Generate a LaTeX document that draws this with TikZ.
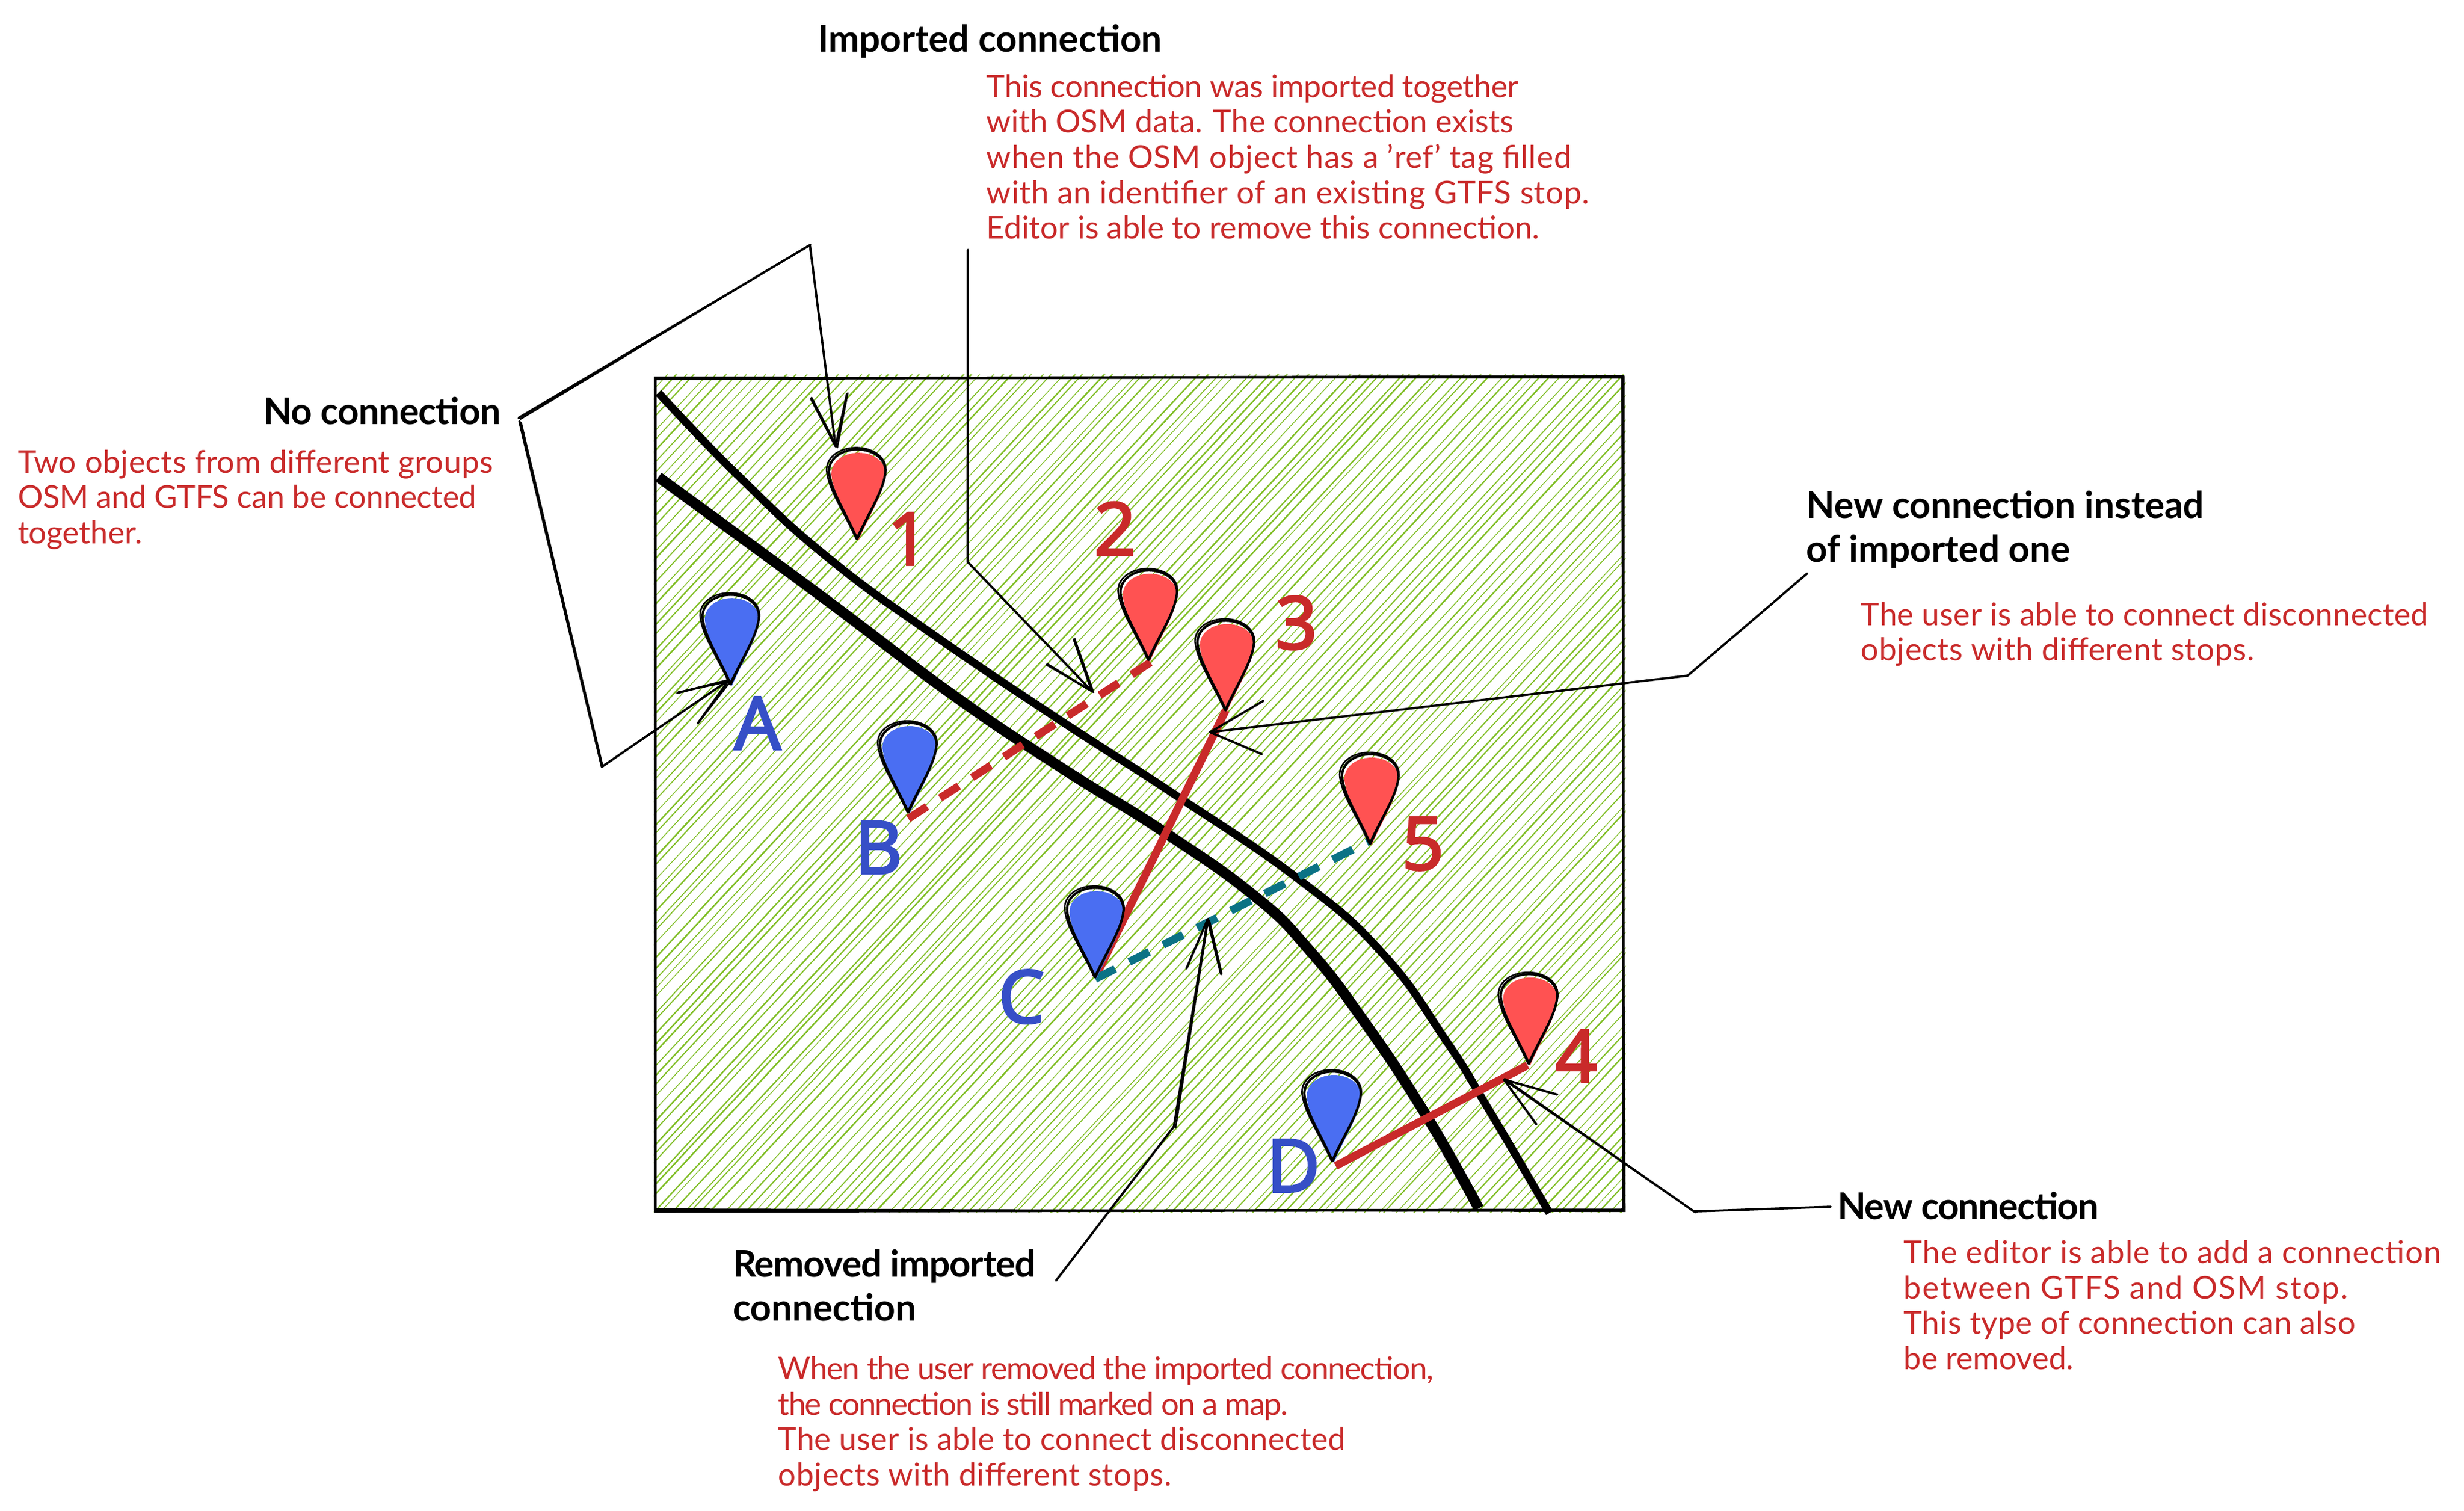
\documentclass[tikz,border=0pt]{standalone}
\usepackage{fontspec}
\usetikzlibrary{calc}
\setmainfont{Lato}
\newfontfamily\pinfont[FakeBold=2.6]{Noto Sans}
\definecolor{hatchgreen}{HTML}{80BE26}
\definecolor{notered}{HTML}{C92A2A}
\definecolor{pinred}{HTML}{FF5252}
\definecolor{pinblue}{HTML}{4A6EF2}
\definecolor{lblblue}{HTML}{364FC7}
\definecolor{teal}{HTML}{0B7285}
\newcommand{\ls}[2]{{\addfontfeature{LetterSpace=#1}#2}}
\tikzset{
  conn/.style={black,line width=0.85pt,line join=round,line cap=round},
  road/.style={black,line cap=butt,line join=round},
  linkline/.style={line width=3pt,line cap=butt},
  linkdash/.style={linkline,dash pattern=on 8.5pt off 6pt},
  headtxt/.style={inner sep=0pt,font=\fontsize{14.1}{16.8}\selectfont\bfseries,align=left,text=black},
  redtxt/.style={inner sep=0pt,font=\fontsize{12}{13.5}\selectfont,align=left,text=notered},
  lbl/.style={inner sep=0pt,anchor=base,font=\pinfont\fontsize{28}{30}\selectfont},
}
\newcommand{\dbl}[2]{%
  \draw[conn] (#1)--(#2);
  \draw[conn,line width=0.6pt] ($(#1)+(1.1,0.8)$)--($(#2)+(0.5,-0.5)$);}
\newcommand{\teardrop}{(0,0) .. controls (-8,-18) and (-17,-31) .. (-18,-43) .. controls (-18,-52) and (-9,-57) .. (0,-57) .. controls (9,-57) and (18,-52) .. (18,-43) .. controls (17,-31) and (8,-18) .. (0,0) -- cycle}
\newcommand{\pinmark}[2]{%
  \begin{scope}[shift={(#1)}]
    \fill[#2,shift={(0.8,1)},xscale=0.96,yscale=0.98] \teardrop;
    \draw[conn,line width=0.9pt] \teardrop;
    \draw[conn,line width=0.6pt,shift={(-0.6,0)},xscale=1.05,yscale=1.02] \teardrop;
  \end{scope}}
\begin{document}
\begin{tikzpicture}[x=0.6pt,y=-0.6pt]
\useasboundingbox (0,0) rectangle (1568,961.3);
\fill[white] (0,0) rectangle (1568,961.3);
% hatching
\begin{scope}
  \clip (416,238.5) rectangle (1034.5,771.5);
  \pgfmathsetseed{42}
  \foreach \i in {0,...,172}{
    \pgfmathsetmacro{\cx}{417+6.5*\i+3.4*(rnd-0.5)}
    \pgfmathsetmacro{\ja}{1.6*(rnd-0.5)}
    \pgfmathsetmacro{\lw}{0.24+0.36*rnd}
    \draw[hatchgreen,line width=\lw pt] (\cx,238) -- (\cx-497+\ja,772);
  }
\end{scope}
% frame
\draw[black,line width=1pt,line join=round] (417,241)--(1033,239.5)--(1033,770)--(417,771)--cycle;
\draw[black,line width=0.5pt] (416.5,240)--(1032,240.5)--(1034,771)--(416.5,769.5)--cycle;
% roads
\draw[road,line width=3pt] plot[smooth,tension=0.8] coordinates {(419,250) (469,302) (527,355) (594,404) (674,458) (748,506) (827,560) (880,607) (920,662) (946.7,705) (986,772)};
\draw[road,line width=4pt] plot[smooth,tension=0.8] coordinates {(419,303.6) (522,379) (606,442) (676,489) (740,529) (798,570) (832.6,604) (867,648.6) (906.7,708.5) (941,769)};
% stop anchors
\coordinate (tip1) at (545.5,343);
\coordinate (tip2) at (731,420);
\coordinate (tip3) at (780,452);
\coordinate (tip4) at (973,677);
\coordinate (tip5) at (872,537);
\coordinate (tipA) at (465,435.5);
\coordinate (tipB) at (578,517);
\coordinate (tipC) at (697,622);
\coordinate (tipD) at (848,739);
\coordinate (endB) at (578,521);
\coordinate (end2) at (733,421);
\coordinate (endC) at (697,623);
\coordinate (end5) at (872,535);
\coordinate (endD) at (850,742);
\coordinate (end4) at (972,678);
% stop links
\draw[notered,linkdash] (endB)--(end2);
\draw[notered,linkline] (tipC)--(tip3);
\draw[teal,linkdash] (endC)--(end5);
\draw[notered,linkline] (endD)--(end4);
% stops
\pinmark{tip1}{pinred}
\pinmark{tip2}{pinred}
\pinmark{tip3}{pinred}
\pinmark{tip4}{pinred}
\pinmark{tip5}{pinred}
\pinmark{tipA}{pinblue}
\pinmark{tipB}{pinblue}
\pinmark{tipC}{pinblue}
\pinmark{tipD}{pinblue}
% stop labels
\node[lbl,text=notered] (n1) at (578,359.6) {1};
\node[lbl,text=notered] (n2) at (709.6,353.3) {2};
\node[lbl,text=notered] (n3) at (825,413) {3};
\node[lbl,text=notered] (n4) at (1003,688.8) {4};
\node[lbl,text=notered] (n5) at (905.5,553.5) {5};
\node[lbl,text=lblblue] (nA) at (482,477) {A};
\node[lbl,text=lblblue] (nB) at (559,556) {B};
\node[lbl,text=lblblue] (nC) at (650,651) {C};
\node[lbl,text=lblblue] (nD) at (823,758.6) {D};
% connector points
\coordinate (noA) at (330,266);
\coordinate (noB) at (515.4,156);
\coordinate (noTip1) at (531.7,284);
\coordinate (noB1) at (516,253.5);
\coordinate (noB2) at (539,250.6);
\coordinate (noC) at (330.5,268);
\coordinate (noD) at (383,488);
\coordinate (noTip2) at (463.8,432.8);
\coordinate (noB3) at (431,441);
\coordinate (noB4) at (444,460.4);
\coordinate (impA) at (615.9,159);
\coordinate (impB) at (615.8,357.7);
\coordinate (impTip) at (694.8,439.8);
\coordinate (impB1) at (683.4,407);
\coordinate (impB2) at (666,423);
\coordinate (instA) at (1150,365);
\coordinate (instB) at (1074,430);
\coordinate (instTip) at (770,466);
\coordinate (instB1) at (804,446);
\coordinate (instB2) at (803,480);
\coordinate (remA) at (672,815);
\coordinate (remB) at (747,717);
\coordinate (remTip) at (768.5,585);
\coordinate (remB1) at (755,616.4);
\coordinate (remB2) at (777,620);
\coordinate (newA) at (1165,768);
\coordinate (newB) at (1078,771);
\coordinate (newTip) at (957,687);
\coordinate (newB1) at (991,696.6);
\coordinate (newB2) at (977.7,715.6);
% connectors
\dbl{noA}{noB}
\draw[conn] (noB)--(noTip1);
\dbl{noTip1}{noB1}
\dbl{noTip1}{noB2}
\dbl{noC}{noD}
\draw[conn] (noD)--(noTip2);
\dbl{noTip2}{noB3}
\dbl{noTip2}{noB4}
\draw[conn] (impA)--(impB)--(impTip);
\dbl{impTip}{impB1}
\dbl{impTip}{impB2}
\draw[conn] (instA)--(instB)--(instTip);
\draw[conn] (instTip)--(instB1);
\draw[conn] (instTip)--(instB2);
\draw[conn] (remA)--(remB);
\dbl{remB}{remTip}
\draw[conn] (remTip)--(remB1);
\dbl{remTip}{remB2}
\draw[conn] (newA)--(newB);
\dbl{newB}{newTip}
\draw[conn] (newTip)--(newB1);
\draw[conn] (newTip)--(newB2);
% texts
\node[headtxt,anchor=base west] (tImp) at (520,33) {Imported connection};
\node[redtxt,anchor=north west] (bImp) at (627.5,47) {\ls{-0.9}{This connection was imported together}\\with OSM data. The connection exists\\\ls{1.7}{when the OSM object has a 'ref' tag filled}\\\ls{1.6}{with an identifier of an existing GTFS stop.}\\Editor is able to remove this connection.};
\node[headtxt,anchor=base east] (tNo) at (319,270) {\ls{-1.3}{No connection}};
\node[redtxt,anchor=north west] (bNo) at (11,286) {\ls{1.0}{Two objects from different groups}\\\ls{-0.9}{OSM and GTFS can be connected}\\together.};
\node[headtxt,anchor=north west] (tInst) at (1149,312) {New connection instead\\of imported one};
\node[redtxt,anchor=north west] (bInst) at (1184,383) {\ls{0.6}{The user is able to connect disconnected}\\\ls{1.2}{objects with different stops.}};
\node[headtxt,anchor=north west] (tRem) at (466,795) {\ls{-1.9}{Removed imported}\\connection};
\node[redtxt,anchor=north west] (bRem) at (495,863) {\ls{-2.9}{When the user removed the imported connection,}\\\ls{-3.7}{the connection is still marked on a map.}\\\ls{0.6}{The user is able to connect disconnected}\\\ls{1.2}{objects with different stops.}};
\node[headtxt,anchor=base west] (tNew) at (1169,776) {\ls{-2.1}{New connection}};
\node[redtxt,anchor=north west] (bNew) at (1211,789) {\ls{2.1}{The editor is able to add a connection}\\\ls{4}{between GTFS and OSM stop.}\\\ls{1.0}{This type of connection can also}\\be removed.};
\end{tikzpicture}
\end{document}
